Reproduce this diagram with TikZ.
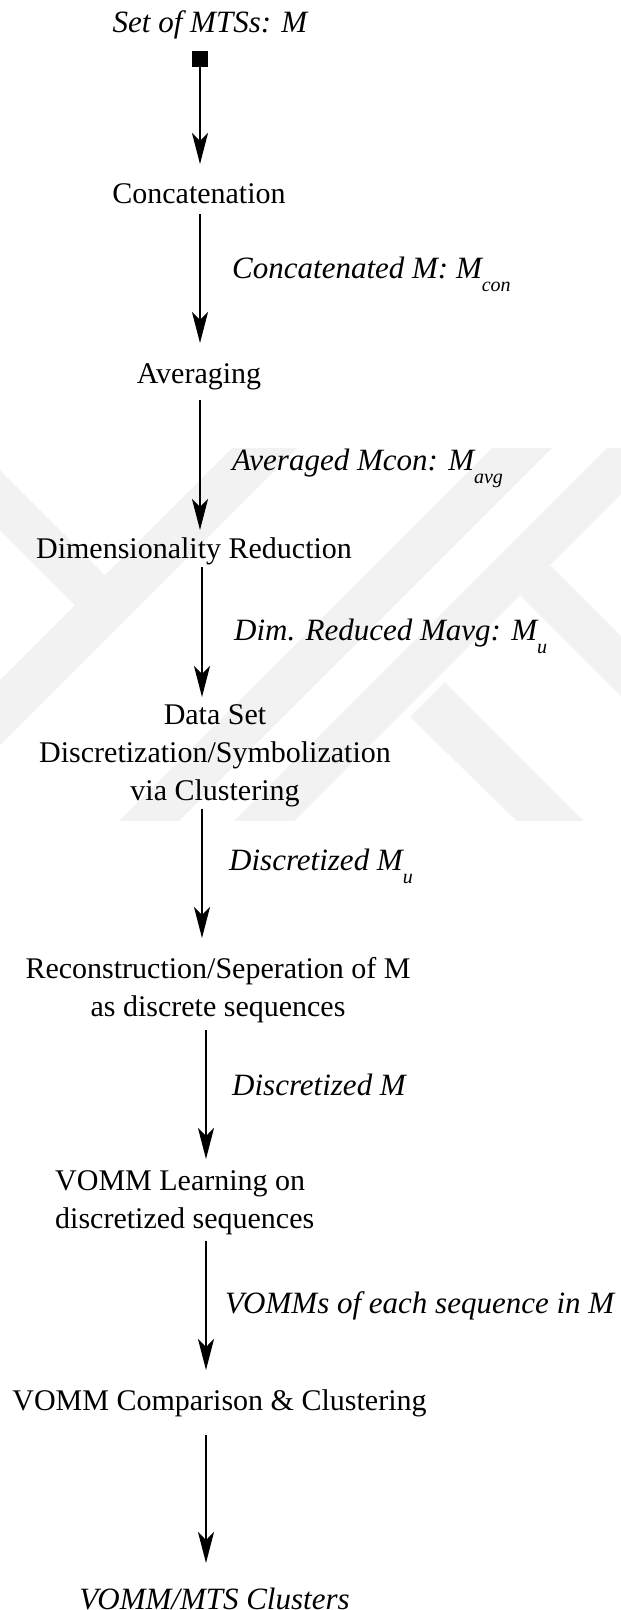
\documentclass[tikz,border=0pt]{standalone}
\usepackage{fontspec}
\setmainfont{Liberation Serif}
\usetikzlibrary{arrows.meta}
\definecolor{wmark}{HTML}{F2F2F2}
% lowered subscript used in the edge labels
\newcommand\flowsub[1]{\raisebox{-13pt}{\fontsize{20}{20}\selectfont #1}}

\begin{document}
\begin{tikzpicture}[x=1pt, y=-1pt,
  stage/.style={font=\fontsize{30}{38}\selectfont, inner sep=0pt, anchor=base},
  note/.style={font=\fontsize{31}{38}\selectfont\itshape, inner sep=0pt, anchor=base west},
  flow/.style={line width=2pt, -{Stealth[length=31pt,width=16pt,inset=8pt]}},
  band/.style={fill=wmark, draw=none}]

\useasboundingbox (0,0) rectangle (621,1610);
\clip (0,0) rectangle (621,1610);

% faint background emblem
\begin{scope}
  \clip (0,448) rectangle (621,820);
  \fill[band] (280,400) -- (345,400) -- (-155,900) -- (-220,900) -- cycle;
  \fill[band] (540,400) -- (600,400) -- (100,900) -- (40,900) -- cycle;
  \fill[band] (655,400) -- (715,400) -- (215,900) -- (155,900) -- cycle;
  \fill[band] (520,595) -- (550,565) -- (885,900) -- (825,900) -- cycle;
  \fill[band] (410,717) -- (445,682) -- (663,900) -- (598,900) -- cycle;
  \fill[band] (-130,400) -- (-70,400) -- (125,595) -- (95,625) -- cycle;
\end{scope}

% columns of the connectors
\coordinate (colA) at (200,0);
\coordinate (colB) at (202,0);
\coordinate (colC) at (206,0);

% stages
\node[note, anchor=base] (title) at (210,32) {Set of MTSs: M};
\node[fill=black, minimum size=16pt, inner sep=0pt] (src) at (200,59) {};
\node[stage] (conc) at (199,203) {Concatenation};
\node[stage] (avg) at (199,383) {Averaging};
\node[stage] (dimred) at (194,558) {Dimensionality Reduction};
\node[stage] (disc) at (215,724) {\begin{tabular}[t]{@{}c@{}}Data Set\\Discretization/Symbolization\\via Clustering\end{tabular}};
\node[stage] (recon) at (218,978) {\begin{tabular}[t]{@{}c@{}}Reconstruction/Seperation of M\\as discrete sequences\end{tabular}};
\node[stage, anchor=base west] (learn) at (55,1190) {\begin{tabular}[t]{@{}l@{}}VOMM Learning on\\discretized sequences\end{tabular}};
\node[stage] (compare) at (219.5,1410) {VOMM Comparison \& Clustering};
\node[note, anchor=base] (clusters) at (214.5,1609) {VOMM/MTS Clusters};

% edge labels
\node[note] (l1) at (232,278) {Concatenated M: M\flowsub{con}};
\node[note] (l2) at (232,470) {Averaged Mcon: M\flowsub{avg}};
\node[note] (l3) at (234,640) {Dim. Reduced Mavg: M\flowsub{u}};
\node[note] (l4) at (229,870) {Discretized M\flowsub{u}};
\node[note] (l5) at (232,1095) {Discretized M};
\node[note] (l6) at (225,1313) {VOMMs of each sequence in M};

% connectors
\draw[flow, shorten >=39pt] (src.south) -- (conc.base -| colA);
\draw[flow, shorten <=11pt, shorten >=40pt] (conc.base -| colA) -- (avg.base -| colA);
\draw[flow, shorten <=17pt, shorten >=28pt] (avg.base -| colA) -- (dimred.base -| colA);
\draw[flow, shorten <=9pt, shorten >=27pt] (dimred.base -| colB) -- (disc.base -| colB);
\draw[flow, shorten <=85pt, shorten >=40pt] (disc.base -| colB) -- (recon.base -| colB);
\draw[flow, shorten <=52pt, shorten >=31pt] (recon.base -| colC) -- (learn.base -| colC);
\draw[flow, shorten <=51pt, shorten >=40pt] (learn.base -| colC) -- (compare.base -| colC);
\draw[flow, shorten <=25pt, shorten >=46pt] (compare.base -| colC) -- (clusters.base -| colC);
\end{tikzpicture}
\end{document}
